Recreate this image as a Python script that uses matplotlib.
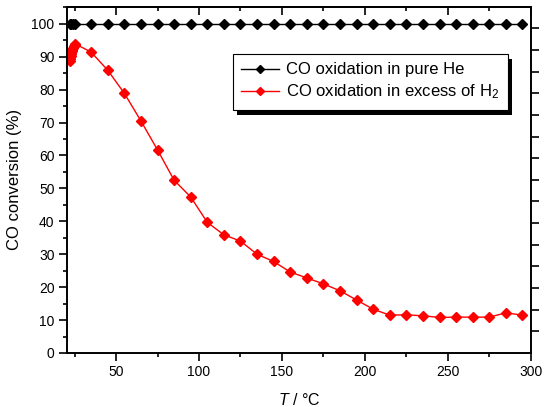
import matplotlib
matplotlib.use('Agg')
import matplotlib.pyplot as plt
from matplotlib.patches import Rectangle
from matplotlib.ticker import MultipleLocator

plt.rcParams['font.family'] = ['Liberation Sans', 'DejaVu Sans']
plt.rcParams['mathtext.fontset'] = 'custom'
plt.rcParams['mathtext.rm'] = 'Liberation Sans'
plt.rcParams['mathtext.it'] = 'Liberation Sans:italic'

# CO oxidation in pure He
t_he = [22, 23, 24, 25.5, 35, 45, 55, 65, 75, 85, 95, 105, 115, 125, 135, 145,
        155, 165, 175, 185, 195, 205, 215, 225, 235, 245, 255, 265, 275, 285, 295]
conv_he = [100] * len(t_he)

# CO oxidation in excess of H2
t_h2 = [22.0, 22.2, 22.4, 22.6, 22.8, 23.0, 23.3, 23.6, 24.0, 24.5, 25.0, 25.5,
        35, 45, 55, 65, 75, 85, 95, 105, 115, 125, 135, 145, 155, 165, 175,
        185, 195, 205, 215, 225, 235, 245, 255, 265, 275, 285, 295]
conv_h2 = [88.8, 89.3, 89.8, 90.3, 90.8, 91.2, 91.7, 92.2, 92.7, 93.2, 93.6, 93.9,
           91.4, 85.9, 78.9, 70.5, 61.7, 52.5, 47.4, 39.7, 35.9, 34.0, 30.0, 27.8,
           24.6, 22.8, 21.0, 18.9, 16.1, 13.3, 11.5, 11.6, 11.3, 10.8, 10.9, 10.9,
           10.9, 12.2, 11.5]

fig = plt.figure(figsize=(5.5, 4.07), dpi=100)
ax = fig.add_axes([0.122, 0.1327, 0.843, 0.8508])

ax.plot(t_he, conv_he, color='black', lw=1, marker='D', ms=5,
        label='CO oxidation in pure He')
ax.plot(t_h2, conv_h2, color='red', lw=1, marker='D', ms=5,
        label='CO oxidation in excess of H$_2$')

ax.set_xlim(20.5, 300)
ax.set_ylim(0, 105.2)
ax.xaxis.set_major_locator(MultipleLocator(50))
ax.xaxis.set_minor_locator(MultipleLocator(25))
ax.yaxis.set_minor_locator(MultipleLocator(5))
ax.set_yticks(range(0, 101, 10))

for s in ax.spines.values():
    s.set_linewidth(1.2)
ax.tick_params(which='both', direction='out', width=1.2, labelsize=10,
               top=False, right=False)
ax.tick_params(which='major', length=5.5)
ax.tick_params(which='minor', length=3)

# top axis: inward ticks, no labels
top = ax.secondary_xaxis('top')
top.xaxis.set_major_locator(MultipleLocator(50))
top.xaxis.set_minor_locator(MultipleLocator(25))
top.tick_params(which='both', direction='in', width=1.2, labeltop=False)
top.tick_params(which='major', length=6)
top.tick_params(which='minor', length=3)
top.spines['top'].set_linewidth(1.2)

# right axis: outward ticks, no labels
right = ax.twinx()
right.set_ylim(0, 16)
right.set_yticks(range(1, 16))
right.tick_params(direction='out', length=6, width=1.2, labelright=False)
for s in right.spines.values():
    s.set_linewidth(1.2)

ax.set_xlabel('$T$ / °C', fontsize=11.5, labelpad=9)
ax.set_ylabel('CO conversion (%)', fontsize=12, labelpad=7)

handles, labels = ax.get_legend_handles_labels()
leg = right.legend(handles, labels, loc='upper right',
                   bbox_to_anchor=(0.95, 0.863), borderaxespad=0, fontsize=12,
                   frameon=True, fancybox=False, edgecolor='black', framealpha=1,
                   handlelength=2.3, borderpad=0.5, labelspacing=0.3,
                   handletextpad=0.4, markerscale=0.9)
leg.get_frame().set_linewidth(0.8)
leg.set_zorder(10)

fig.canvas.draw()
bb = leg.get_window_extent()
shadow = Rectangle((bb.x0 + 4, bb.y0 - 5), bb.width, bb.height,
                   transform=None, facecolor='black', edgecolor='none', zorder=9)
right.add_patch(shadow)

fig.savefig('out.png', dpi=100)
